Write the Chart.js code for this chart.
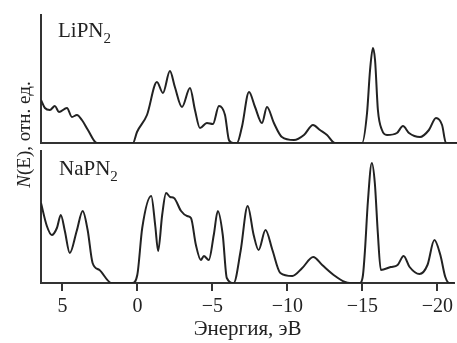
<!DOCTYPE html>
<html>
<head>
<meta charset="utf-8">
<script src="https://cdn.jsdelivr.net/npm/chart.js@4.4.1/dist/chart.umd.min.js"></script>
<style>
  html, body { margin: 0; padding: 0; background: #fff; }
  #wrap { position: relative; width: 457px; height: 343px; }
  #wrap canvas { position: absolute; left: 0; top: 0; }
</style>
</head>
<body>
<div id="wrap">
  <canvas id="li-chart" width="457" height="343"></canvas>
  <canvas id="na-chart" width="457" height="343"></canvas>
</div>
<script>
// Энергия (эВ) и плотность состояний, отн. ед.
const liEnergy = [6.43, 6.17, 5.84, 5.51, 5.24, 4.71, 4.38, 4.05, 3.72, 3.32, 2.72, 0.34, 0.07, -0.59, -1.25, -1.65, -2.11, -2.44, -2.91, -3.44, -3.77, -4.10, -4.56, -4.96, -5.36, -5.76, -6.02, -6.29, -6.55, -6.88, -7.35, -7.75, -8.21, -8.54, -9.00, -9.53, -10.33, -10.99, -11.59, -12.05, -12.52, -13.05, -14.84, -15.17, -15.37, -15.56, -15.70, -15.89, -16.16, -16.49, -17.15, -17.55, -17.95, -18.68, -19.27, -19.74, -20.14, -20.40, -21.13];
const liDos = [43, 35, 33, 37, 31, 35, 26, 28, 23, 13, 0, 0, 11, 28, 61, 50, 72, 56, 36, 55, 33, 15, 20, 19, 37, 28, 3, 0, 0, 16, 51, 36, 20, 36, 20, 6, 3, 8, 18, 13, 8, 0, 0, 30, 73, 95, 83, 33, 13, 8, 10, 17, 10, 6, 13, 25, 18, 0, 0];

const naEnergy = [6.43, 6.04, 5.71, 5.37, 5.11, 4.84, 4.51, 4.05, 3.65, 3.32, 2.99, 2.53, 1.73, 0.34, 0.01, -0.32, -0.92, -1.19, -1.38, -1.65, -1.91, -2.18, -2.44, -2.91, -3.31, -3.57, -3.90, -4.23, -4.43, -4.76, -5.09, -5.36, -5.69, -5.96, -6.42, -6.88, -7.35, -7.75, -8.08, -8.54, -9.00, -9.53, -10.33, -10.99, -11.72, -12.32, -13.18, -13.84, -14.17, -14.84, -15.04, -15.17, -15.37, -15.63, -15.83, -16.03, -16.23, -16.89, -17.35, -17.75, -18.15, -18.81, -19.34, -19.80, -20.20, -20.53, -20.80, -21.13];
const naDos = [80, 57, 48, 55, 68, 52, 30, 52, 72, 53, 20, 13, 0, 0, 8, 55, 87, 57, 32, 68, 90, 86, 85, 72, 67, 65, 38, 23, 27, 23, 48, 72, 48, 5, 0, 32, 77, 48, 33, 53, 33, 10, 7, 15, 26, 18, 7, 1, 0, 0, 8, 32, 82, 120, 100, 50, 13, 16, 18, 27, 16, 9, 18, 43, 28, 6, 0, 0];

const xTicks = [5, 0, -5, -10, -15, -20];
const xMin = -21.13;
const xMax = 6.43;

const ink = "#222";
const axisInk = "#333";
const serif = "'Liberation Serif', 'DejaVu Serif', serif";

function toPoints(xs, ys) {
  return xs.map((x, i) => ({ x: x, y: ys[i] }));
}

function lineDataset(xs, ys) {
  return {
    data: toPoints(xs, ys),
    borderColor: ink,
    borderWidth: 2,
    pointRadius: 0,
    fill: false,
    cubicInterpolationMode: "monotone",
  };
}

// формула с нижним индексом
function drawFormula(ctx, main, sub, x, y) {
  ctx.font = "21px " + serif;
  ctx.fillText(main, x, y);
  const w = ctx.measureText(main).width;
  ctx.font = "15px " + serif;
  ctx.fillText(sub, x + w, y + 6);
}

const textPlugin = {
  id: "texts",
  afterDraw(chart) {
    const ctx = chart.ctx;
    ctx.save();
    ctx.fillStyle = ink;
    ctx.textBaseline = "alphabetic";
    ctx.textAlign = "left";
    drawFormula(ctx, "LiPN", "2", 58, 37);
    drawFormula(ctx, "NaPN", "2", 59, 175);

    // подпись оси Y
    ctx.translate(30, 134.5);
    ctx.rotate(-Math.PI / 2);
    ctx.font = "italic 19px " + serif;
    const w1 = ctx.measureText("N").width;
    ctx.font = "19px " + serif;
    const rest = "(E), отн. ед.";
    const w2 = ctx.measureText(rest).width;
    let start = -(w1 + w2) / 2;
    ctx.font = "italic 19px " + serif;
    ctx.fillText("N", start, 0);
    ctx.font = "19px " + serif;
    ctx.fillText(rest, start + w1, 0);
    ctx.restore();
  },
};

const yAxisBase = {
  beginAtZero: true,
  min: 0,
  ticks: { display: false },
  grid: { display: false },
  border: { display: true, width: 2, color: axisInk },
  afterFit: (scale) => {
    scale.width = 41;
  },
};

const graficoLi = new Chart(document.getElementById("li-chart"), {
  type: "line",
  data: { datasets: [lineDataset(liEnergy, liDos)] },
  options: {
    responsive: false,
    animation: false,
    layout: { padding: { top: 15, left: 0, right: 0, bottom: 0 } },
    plugins: { legend: { display: false }, tooltip: { enabled: false } },
    scales: {
      x: {
        type: "linear",
        reverse: true,
        min: xMin,
        max: xMax,
        ticks: { display: false },
        grid: { display: false },
        border: { display: true, width: 2, color: axisInk },
        afterFit: (scale) => {
          scale.height = 200;
        },
      },
      y: Object.assign({}, yAxisBase, { max: 128 }),
    },
  },
});

const graficoNa = new Chart(document.getElementById("na-chart"), {
  type: "line",
  data: { datasets: [lineDataset(naEnergy, naDos)] },
  options: {
    responsive: false,
    animation: false,
    layout: { padding: { top: 151, left: 0, right: 0, bottom: 0 } },
    plugins: { legend: { display: false }, tooltip: { enabled: false } },
    scales: {
      x: {
        type: "linear",
        reverse: true,
        min: xMin,
        max: xMax,
        afterBuildTicks: (scale) => {
          scale.ticks = xTicks.map((v) => ({ value: v }));
        },
        ticks: {
          autoSkip: false,
          maxRotation: 0,
          padding: 4,
          color: ink,
          font: { family: serif, size: 20 },
          callback: (v) => (v < 0 ? "\u2212" + Math.abs(v) : String(v)),
        },
        grid: {
          display: true,
          drawOnChartArea: false,
          drawTicks: true,
          tickLength: 8,
          lineWidth: 2,
          color: axisInk,
        },
        border: { display: true, width: 2, color: axisInk },
        title: {
          display: true,
          text: "Энергия, эВ",
          color: ink,
          font: { family: serif, size: 21 },
          padding: { top: 0, bottom: 1 },
        },
        afterFit: (scale) => {
          scale.height = 60;
        },
      },
      y: Object.assign({}, yAxisBase, { max: 132 }),
    },
  },
  plugins: [textPlugin],
});
</script>
</body>
</html>
